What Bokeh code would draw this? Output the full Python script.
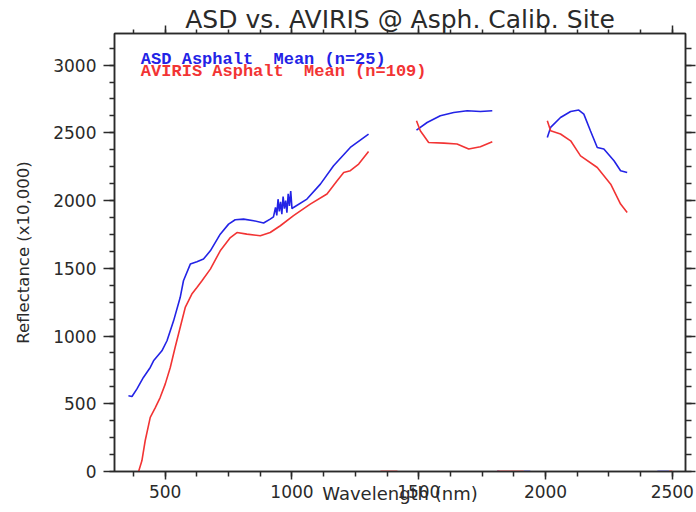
from bokeh.plotting import figure
from bokeh.models import Range1d, LinearAxis, SingleIntervalTicker, Label
from bokeh.embed import file_html
from bokeh.resources import INLINE

# ---- data ----
asd_wl_1 = [355, 369, 388, 414, 441, 454, 487, 507, 533, 559, 572, 599, 625, 651, 678, 717, 750, 776, 809, 849, 888,
            914, 927, 935, 940, 945, 950, 955, 960, 965, 970, 975, 980, 985, 990, 995, 1000, 1006, 1059, 1112, 1164,
            1230, 1302]
asd_rf_1 = [559, 554, 608, 694, 768, 817, 891, 965, 1112, 1284, 1408, 1531, 1548, 1568, 1629, 1752, 1826, 1858, 1863,
            1851, 1834, 1863, 1880, 1950, 1890, 2010, 1920, 1990, 1900, 2030, 1940, 2000, 1910, 2050, 1960, 2070,
            1940, 1949, 2011, 2121, 2257, 2392, 2490]
asd_wl_2 = [1491, 1533, 1585, 1638, 1691, 1743, 1790]
asd_rf_2 = [2520, 2576, 2626, 2650, 2663, 2657, 2663]
asd_wl_3 = [2007, 2020, 2059, 2099, 2131, 2151, 2177, 2204, 2230, 2270, 2296, 2322]
asd_rf_3 = [2466, 2540, 2613, 2657, 2668, 2638, 2515, 2392, 2380, 2294, 2220, 2207]

aviris_wl_1 = [395, 408, 421, 441, 461, 480, 500, 520, 539, 559, 579, 605, 625, 645, 678, 717, 757, 783, 822, 875, 914,
               954, 1006, 1072, 1138, 1178, 1204, 1230, 1263, 1302]
aviris_rf_1 = [0, 79, 227, 399, 472, 546, 645, 768, 915, 1063, 1211, 1310, 1358, 1408, 1494, 1629, 1727, 1764, 1752,
               1740, 1764, 1814, 1888, 1974, 2048, 2146, 2207, 2220, 2269, 2362]
aviris_wl_2 = [1491, 1506, 1539, 1599, 1651, 1697, 1743, 1790]
aviris_rf_2 = [2589, 2515, 2429, 2424, 2417, 2380, 2397, 2434]
aviris_wl_3 = [2007, 2020, 2059, 2099, 2138, 2204, 2257, 2296, 2322]
aviris_rf_3 = [2589, 2515, 2491, 2441, 2330, 2244, 2121, 1974, 1912]

# water-band fragments lying on zero
asd_zero_wl = [[1809, 1818], [1914, 1940], [2441, 2487]]
aviris_zero_wl = [[1349, 1416], [1809, 1914], [2487, 2500]]

x_ticks = [500, 1000, 1500, 2000, 2500]
y_ticks = [0, 500, 1000, 1500, 2000, 2500, 3000]

title_text = "ASD vs. AVIRIS @ Asph. Calib. Site"
legend_asd = "ASD Asphalt\u00a0 Mean (n=25)"
legend_aviris = "AVIRIS Asphalt\u00a0 Mean (n=109)"
x_label = "Wavelength (nm)"
y_label = "Reflectance (x10,000)"

BLUE = "#2323e6"
RED = "#f23434"
INK = "#2a2a2a"
FONT = "DejaVu Sans"

p = figure(width=696, height=512, output_backend="svg", toolbar_location=None,
           x_range=Range1d(300, 2552), y_range=Range1d(0, 3233),
           x_axis_location=None, y_axis_location=None,
           min_border_left=114, min_border_right=11, min_border_top=33, min_border_bottom=41)
p.grid.visible = False
p.outline_line_color = INK
p.outline_line_width = 1.5
p.background_fill_color = "white"
p.border_fill_color = "white"

xt = SingleIntervalTicker(interval=500, num_minor_ticks=4)
yt = SingleIntervalTicker(interval=500, num_minor_ticks=4)


def style(ax, tick_out, minor_out):
    ax.axis_line_color = INK
    ax.axis_line_width = 1.5
    ax.major_tick_line_color = INK
    ax.minor_tick_line_color = INK
    ax.major_tick_line_width = 1.5
    ax.minor_tick_line_width = 1.5
    ax.major_tick_in = 0
    ax.minor_tick_in = 0
    ax.major_tick_out = tick_out
    ax.minor_tick_out = minor_out
    ax.major_label_text_font = FONT
    ax.major_label_text_font_size = "17px"
    ax.major_label_text_color = INK
    ax.axis_label_text_font = FONT
    ax.axis_label_text_font_style = "normal"
    ax.axis_label_text_color = INK


def no_labels(ax, ticks):
    ax.major_label_overrides = {t: "" for t in ticks}
    ax.major_label_standoff = 0


bottom = LinearAxis(ticker=xt, axis_label=x_label)
style(bottom, 8, 5)
bottom.major_label_standoff = 5
bottom.axis_label_text_font_size = "18px"
bottom.axis_label_standoff = -18
p.add_layout(bottom, "below")

left = LinearAxis(ticker=yt, axis_label=y_label)
style(left, 11, 5)
left.major_label_standoff = 7
left.axis_label_text_font_size = "16.5px"
left.axis_label_standoff = 17
p.add_layout(left, "left")

top = LinearAxis(ticker=xt, axis_label=title_text)
style(top, 8, 4)
no_labels(top, x_ticks)
top.axis_label_text_font_size = "25px"
top.axis_label_standoff = -8
p.add_layout(top, "above")

right = LinearAxis(ticker=yt)
style(right, 10, 6)
no_labels(right, y_ticks)
p.add_layout(right, "right")

# curves
for wl, rf in [(asd_wl_1, asd_rf_1), (asd_wl_2, asd_rf_2), (asd_wl_3, asd_rf_3)]:
    p.line(wl, rf, line_color=BLUE, line_width=1.6)
for wl, rf in [(aviris_wl_1, aviris_rf_1), (aviris_wl_2, aviris_rf_2), (aviris_wl_3, aviris_rf_3)]:
    p.line(wl, rf, line_color=RED, line_width=1.6)
for seg in asd_zero_wl:
    p.line(seg, [0, 0], line_color=BLUE, line_width=2, line_alpha=0.6)
for seg in aviris_zero_wl:
    p.line(seg, [0, 0], line_color=RED, line_width=2, line_alpha=0.8)

# legend texts
p.add_layout(Label(x=404, y=3040, text=legend_asd, text_align="left", text_baseline="alphabetic",
                   text_font="Liberation Mono", text_font_style="bold", text_font_size="17px", text_color=BLUE))
p.add_layout(Label(x=404, y=2955, text=legend_aviris, text_align="left", text_baseline="alphabetic",
                   text_font="Liberation Mono", text_font_style="bold", text_font_size="17px", text_color=RED))

open("out.html", "w").write(file_html(p, INLINE))
